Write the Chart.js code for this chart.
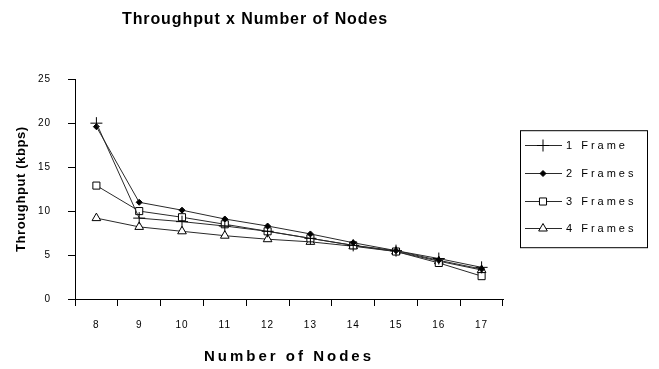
<!DOCTYPE html>
<html>
<head>
<meta charset="utf-8">
<script src="https://cdn.jsdelivr.net/npm/chart.js@4/dist/chart.umd.min.js"></script>
<style>
  html, body { margin: 0; padding: 0; background: #fff; }
  #wrap { width: 659px; height: 369px; }
</style>
</head>
<body>
<div id="wrap"><canvas id="chart" width="659" height="369"></canvas></div>
<script>
// Number of nodes on the x axis
const nodes = ['8', '9', '10', '11', '12', '13', '14', '15', '16', '17'];

// Throughput (kbps) per frame count
const oneFrame    = [20.0, 9.2, 8.8, 8.3, 7.7, 6.9, 6.1, 5.5, 4.6, 3.6];
const twoFrames   = [19.6, 11.0, 10.1, 9.1, 8.3, 7.4, 6.4, 5.5, 4.4, 3.4];
const threeFrames = [12.9, 10.0, 9.3, 8.5, 7.7, 6.9, 6.1, 5.4, 4.1, 2.6];
const fourFrames  = [9.2, 8.2, 7.7, 7.2, 6.8, 6.5, 6.0, 5.4, 4.3, 3.3];

const seriesNames = ['1 Frame', '2 Frames', '3 Frames', '4 Frames'];
const yMin = 0, yMax = 25, yStep = 5;

const INK = '#000';
const LINE = '#2a2a2a';
const BOLD_FAMILY = "'Liberation Sans Narrow', 'Liberation Sans', Arial, sans-serif";
const FAMILY = "'Liberation Sans', Arial, sans-serif";

const markerStyles = [
  { pointStyle: 'cross',   pointRadius: 6, pointBackgroundColor: INK, pointBorderColor: INK },
  { pointStyle: 'rectRot', pointRadius: 3, pointBackgroundColor: INK, pointBorderColor: INK },
  { pointStyle: 'rect',    pointRadius: 5, pointBackgroundColor: '#fff', pointBorderColor: INK },
  { pointStyle: 'triangle',pointRadius: 5, pointBackgroundColor: '#fff', pointBorderColor: INK }
];

const seriesValues = [oneFrame, twoFrames, threeFrames, fourFrames];

const datasets = seriesValues.map((values, i) => Object.assign({
  label: seriesNames[i],
  data: values,
  borderColor: LINE,
  borderWidth: 1,
  tension: 0,
  fill: false,
  pointBorderWidth: 1,
  pointHoverRadius: 5
}, markerStyles[i]));

// Wider letter spacing for titles, lighter for tick labels
const spacingPlugin = {
  id: 'letterSpacing',
  beforeDraw(chart) {
    chart.ctx.letterSpacing = '1px';
  },
  afterUpdate(chart) {
    const wrap = (obj, name, spacing) => {
      if (!obj || obj['_spaced_' + name]) return;
      const orig = obj[name];
      obj[name] = function (...args) {
        const ctx = this.ctx;
        const prev = ctx.letterSpacing;
        ctx.letterSpacing = spacing;
        const r = orig.apply(this, args);
        ctx.letterSpacing = prev;
        return r;
      };
      obj['_spaced_' + name] = true;
    };
    wrap(chart.titleBlock, 'draw', '0.9px');
    wrap(chart.scales.x, 'drawTitle', '3px');
    wrap(chart.scales.y, 'drawTitle', '0.6px');
  }
};

// Boxed legend: a short line with the series marker, then the label
const boxedLegend = {
  id: 'boxedLegend',
  afterDraw(chart) {
    const ctx = chart.ctx;
    const area = chart.chartArea;
    const left = area.right + 17, top = area.top + 51;
    const width = 127, height = 117;
    ctx.save();
    ctx.letterSpacing = '0px';
    ctx.strokeStyle = INK;
    ctx.lineWidth = 1;
    ctx.strokeRect(left + 0.5, top + 0.5, width, height);

    ctx.font = '11px ' + FAMILY;
    ctx.textBaseline = 'middle';
    ctx.textAlign = 'left';
    chart.data.datasets.forEach((ds, i) => {
      const y = Math.round(top + 15 + i * 27.7) + 0.5;
      ctx.strokeStyle = LINE;
      ctx.lineWidth = 1;
      ctx.beginPath();
      ctx.moveTo(left + 5, y);
      ctx.lineTo(left + 42, y);
      ctx.stroke();
      ctx.fillStyle = ds.pointBackgroundColor;
      ctx.strokeStyle = ds.pointBorderColor;
      const opts = { pointStyle: ds.pointStyle, radius: ds.pointRadius, rotation: 0, borderWidth: 1 };
      if (Chart.helpers && Chart.helpers.drawPoint) {
        Chart.helpers.drawPoint(ctx, opts, left + 23, y);
      }
      ctx.fillStyle = INK;
      ctx.letterSpacing = '3px';
      ctx.fillText(ds.label, left + 46, y);
      ctx.letterSpacing = '0px';
    });
    ctx.restore();
  }
};

new Chart(document.getElementById('chart'), {
  type: 'line',
  data: { labels: nodes, datasets },
  plugins: [spacingPlugin, boxedLegend],
  options: {
    responsive: false,
    animation: false,
    events: [],
    layout: { padding: { left: 7, right: 156, top: 0, bottom: 0 } },
    plugins: {
      legend: { display: false },
      tooltip: { enabled: false },
      title: {
        display: true,
        text: 'Throughput x Number of Nodes',
        color: INK,
        font: { family: BOLD_FAMILY, size: 16, weight: 'bold' },
        padding: { top: 10, bottom: 50 }
      }
    },
    scales: {
      x: {
        type: 'category',
        offset: true,
        grid: { offset: true, drawOnChartArea: false, drawTicks: true, tickLength: 7, color: INK },
        border: { display: true, color: INK, width: 1 },
        ticks: { color: INK, font: { family: FAMILY, size: 10 }, padding: 13, maxRotation: 0 },
        title: {
          display: true,
          text: 'Number of Nodes',
          color: INK,
          font: { family: BOLD_FAMILY, size: 15, weight: 'bold' },
          padding: { top: 0, bottom: 3 }
        },
        afterFit(scale) { scale.height = 70; }
      },
      y: {
        min: yMin,
        max: yMax,
        grid: { drawOnChartArea: false, drawTicks: true, tickLength: 7, color: INK },
        border: { display: true, color: INK, width: 1 },
        ticks: { stepSize: yStep, color: INK, font: { family: FAMILY, size: 10 }, padding: 17 },
        title: {
          display: true,
          text: 'Throughput (kbps)',
          color: INK,
          font: { family: FAMILY, size: 13, weight: 'bold' },
          padding: { top: 7, bottom: 0 }
        },
        afterFit(scale) { scale.width = 68; }
      }
    }
  }
});
</script>
</body>
</html>
